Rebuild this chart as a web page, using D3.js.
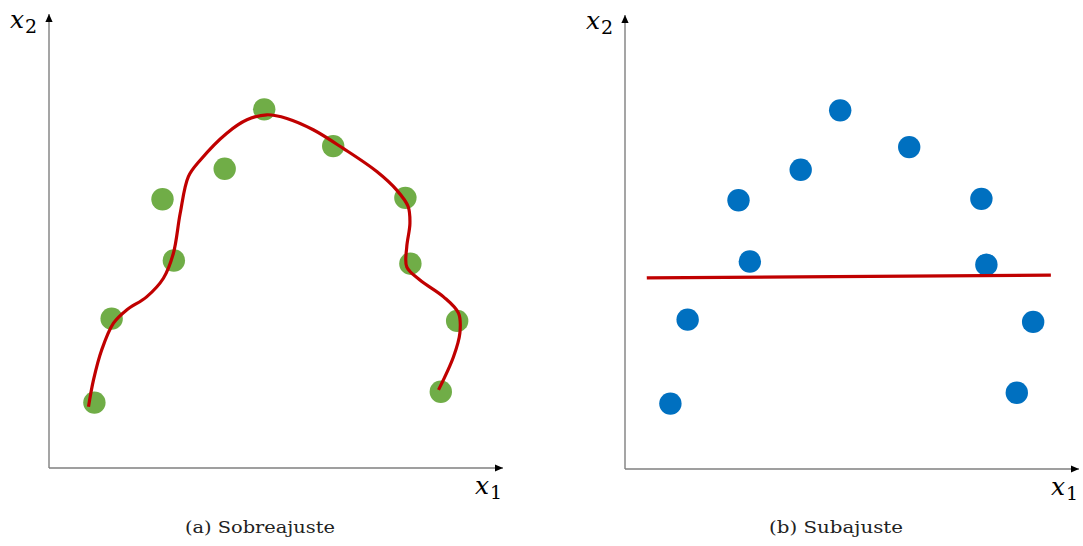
<!DOCTYPE html>
<html><head><meta charset="utf-8">
<script src="https://cdn.jsdelivr.net/npm/d3@7"></script>
<style>html,body{margin:0;padding:0;background:#fff;}svg{display:block;}</style>
</head><body>
<svg id="c" width="1083" height="546"></svg>
<script>
// Data (shared sample points, axis units 0..10)
const pointX = [1.00, 1.38, 2.50, 2.75, 3.87, 4.74, 6.26, 7.85, 7.96, 8.99, 8.63];
const pointY = [1.44, 3.29, 5.92, 4.57, 6.59, 7.90, 7.09, 5.95, 4.50, 3.24, 1.68];
// Overfitting curve (a)
const overX = [0.87, 0.98, 1.16, 1.42, 1.71, 2.15, 2.52, 2.74, 2.89, 3.07, 3.33, 3.91, 4.36, 4.80, 5.24, 5.82, 6.48, 7.22, 7.66, 7.91, 7.95, 7.88, 7.88, 8.17, 8.69, 9.02, 9.05, 8.91, 8.58];
const overY = [1.35, 1.94, 2.60, 3.19, 3.48, 3.77, 4.18, 4.73, 5.61, 6.42, 6.78, 7.37, 7.67, 7.78, 7.70, 7.45, 7.04, 6.53, 6.12, 5.76, 5.39, 4.87, 4.43, 4.14, 3.77, 3.41, 2.97, 2.45, 1.72];
// Underfitting line (b)
const underX = [0.48, 9.38];
const underY = [4.21, 4.27];
const captions = ["(a) Sobreajuste", "(b) Subajuste"];
const axisLabels = ["x", "x"];
const axisSubs = ["1", "2"];

const svg = d3.select("#c");
const defs = svg.append("defs");
defs.append("marker").attr("id","arr").attr("viewBox","0 0 10 10").attr("refX",10).attr("refY",5)
  .attr("markerWidth",8).attr("markerHeight",8).attr("markerUnits","userSpaceOnUse").attr("orient","auto")
  .append("path").attr("d","M0,0.5L10,5L0,9.5Z").attr("fill","#000");

const panels = [
  {ox:49, oy:468, dot:"#70AD47", caption:captions[0], capX:185, capW:150},
  {ox:625, oy:469, dot:"#0070C0", caption:captions[1], capX:769, capW:134}
];
const size = 454;

panels.forEach((p, i) => {
  const x = d3.scaleLinear().domain([0,10]).range([p.ox, p.ox + size]);
  const y = d3.scaleLinear().domain([0,10]).range([p.oy, p.oy - size]);
  const g = svg.append("g");
  // axes
  g.append("line").attr("x1", x(0)).attr("y1", y(0)).attr("x2", x(10)).attr("y2", y(0))
    .attr("stroke","#7f7f7f").attr("stroke-width",1.4).attr("marker-end","url(#arr)");
  g.append("line").attr("x1", x(0)).attr("y1", y(0)).attr("x2", x(0)).attr("y2", y(10))
    .attr("stroke","#7f7f7f").attr("stroke-width",1.4).attr("marker-end","url(#arr)");
  // axis labels
  const lab = (tx, ty, k) => {
    const t = g.append("text").attr("x", tx).attr("y", ty)
      .attr("font-family","'DejaVu Serif', serif").attr("fill","#000");
    t.append("tspan").attr("font-style","italic").attr("font-size",25).text(axisLabels[k]);
    t.append("tspan").attr("font-size",19).attr("dy",5).attr("dx",1).text(axisSubs[k]);
  };
  lab(x(0) - 39, y(10) + 14, 1);
  lab(x(10) - 28, y(0) + 26, 0);
  // points
  g.selectAll("circle").data(pointX.map((d,j)=>[d, pointY[j]])).join("circle")
    .attr("cx", d => x(d[0])).attr("cy", d => y(d[1])).attr("r", 11.2).attr("fill", p.dot);
  // fit
  const line = d3.line().x(d => x(d[0])).y(d => y(d[1]));
  if (i === 0) {
    line.curve(d3.curveCatmullRom.alpha(0.5));
    g.append("path").attr("d", line(overX.map((d,j)=>[d, overY[j]])))
      .attr("fill","none").attr("stroke","#C00000").attr("stroke-width",3.2).attr("stroke-linecap","butt");
  } else {
    g.append("path").attr("d", line(underX.map((d,j)=>[d, underY[j]])))
      .attr("fill","none").attr("stroke","#C00000").attr("stroke-width",3.2);
  }
  // caption
  svg.append("text").attr("x", p.capX).attr("y", 533)
    .attr("font-family","'DejaVu Serif', serif").attr("font-size",17.5).attr("fill","#222")
    .attr("textLength", p.capW).attr("lengthAdjust","spacingAndGlyphs")
    .text(p.caption);
});
</script>
</body></html>
